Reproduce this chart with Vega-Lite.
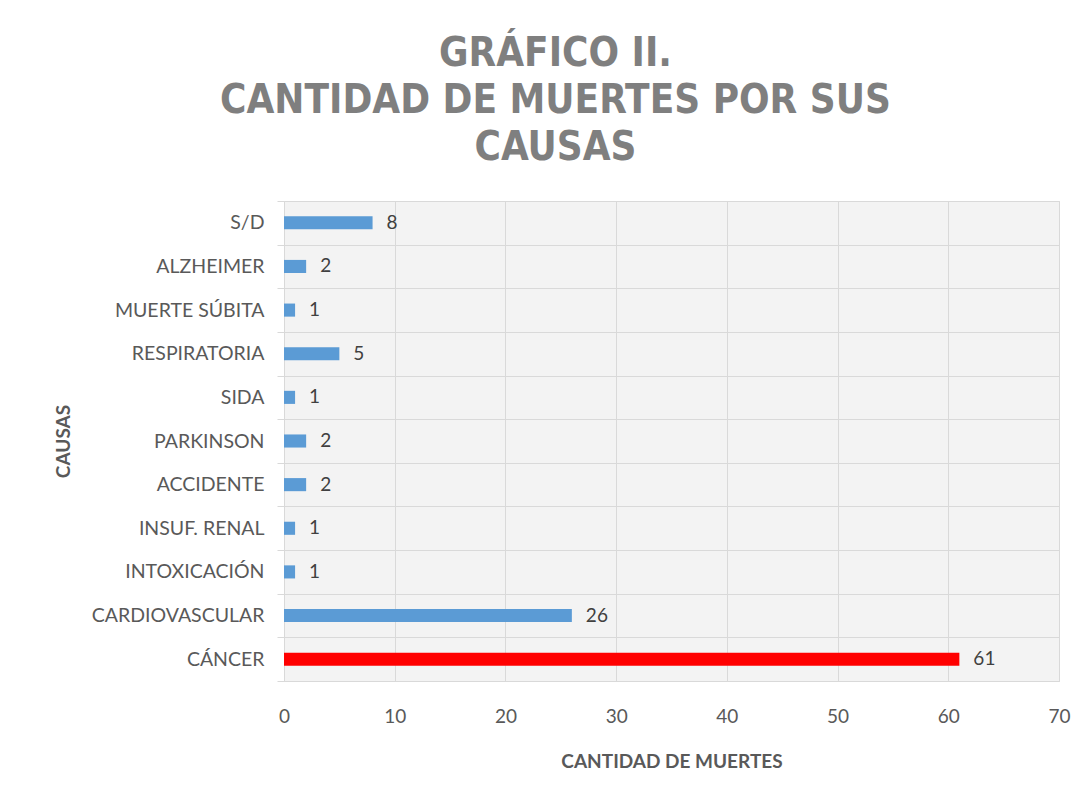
{
  "$schema": "https://vega.github.io/schema/vega-lite/v6.json",
  "width": 775,
  "height": 480,
  "autosize": {"type": "none"},
  "padding": {"left": 284, "top": 201, "right": 33, "bottom": 126},
  "background": "white",
  "title": {
    "text": ["GRÁFICO II.", "CANTIDAD DE MUERTES POR SUS", "CAUSAS"],
    "font": "DejaVu Sans Condensed, Liberation Sans",
    "fontSize": 40,
    "fontWeight": "bold",
    "color": "#7f7f7f",
    "lineHeight": 47,
    "anchor": "middle",
    "dx": -116,
    "offset": 23
  },
  "data": {
    "values": [
      {"causa": "S/D", "muertes": 8},
      {"causa": "ALZHEIMER", "muertes": 2},
      {"causa": "MUERTE SÚBITA", "muertes": 1},
      {"causa": "RESPIRATORIA", "muertes": 5},
      {"causa": "SIDA", "muertes": 1},
      {"causa": "PARKINSON", "muertes": 2},
      {"causa": "ACCIDENTE", "muertes": 2},
      {"causa": "INSUF. RENAL", "muertes": 1},
      {"causa": "INTOXICACIÓN", "muertes": 1},
      {"causa": "CARDIOVASCULAR", "muertes": 26},
      {"causa": "CÁNCER", "muertes": 61}
    ]
  },
  "encoding": {
    "y": {
      "field": "causa",
      "type": "nominal",
      "sort": null,
      "scale": {"paddingInner": 0, "paddingOuter": 0},
      "axis": {
        "title": "CAUSAS",
        "titleFont": "Lato",
        "titleFontSize": 19,
        "titleFontWeight": "bold",
        "titleColor": "#595959",
        "titlePadding": 18,
        "labelFont": "Lato",
        "labelFontSize": 19.5,
        "labelColor": "#595959",
        "labelPadding": 13,
        "tickBand": "extent",
        "ticks": true,
        "tickSize": 7,
        "tickColor": "#d9d9d9",
        "grid": true,
        "gridColor": "#d9d9d9",
        "domain": false
      }
    },
    "x": {
      "field": "muertes",
      "type": "quantitative",
      "scale": {"domain": [0, 70], "nice": false},
      "axis": {
        "title": "CANTIDAD DE MUERTES",
        "titleFont": "Lato",
        "titleFontSize": 19,
        "titleFontWeight": "bold",
        "titleColor": "#595959",
        "titlePadding": 26,
        "values": [0, 10, 20, 30, 40, 50, 60, 70],
        "labelFont": "Lato",
        "labelFontSize": 19,
        "labelColor": "#595959",
        "labelPadding": 26,
        "labelFlush": false,
        "ticks": false,
        "grid": true,
        "gridColor": "#d9d9d9",
        "domain": false
      }
    }
  },
  "layer": [
    {
      "mark": {"type": "bar", "height": {"band": 0.3}},
      "encoding": {
        "color": {
          "condition": {"test": "datum.causa === 'CÁNCER'", "value": "#ff0000"},
          "value": "#5b9bd5"
        }
      }
    },
    {
      "mark": {"type": "text", "align": "left", "dx": 14, "font": "Lato", "fontSize": 19, "color": "#404040"},
      "encoding": {"text": {"field": "muertes", "type": "quantitative"}}
    }
  ],
  "config": {
    "view": {"stroke": "#d9d9d9", "fill": "#f3f3f3"}
  }
}
